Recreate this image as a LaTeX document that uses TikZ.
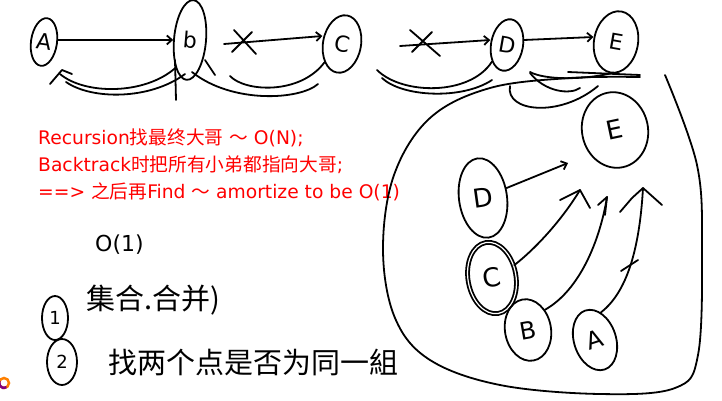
\documentclass[tikz,border=0pt]{standalone}
\usepackage{fontspec}
\setmainfont{DejaVu Sans}
\newfontfamily\cjk{Noto Sans CJK SC}
\usetikzlibrary{shapes.geometric,arrows.meta}
\begin{document}
\begin{tikzpicture}[x=1pt,y=-1pt,
  pen/.style={line width=1.8pt, line cap=round, line join=round, black},
  letter/.style={pen, draw, ellipse, inner sep=0pt, font=\fontsize{22}{22}\selectfont},
  harrow/.style={pen, -{Straight Barb[length=5pt,width=9pt]}},
  redtxt/.style={text=red, anchor=west, inner sep=0pt, font=\fontsize{18.7}{18.7}\selectfont},
  hand/.style={anchor=west, inner sep=0pt, font=\cjk\fontsize{29}{29}\selectfont}]
\useasboundingbox (0,0) rectangle (722,400);
\fill[white] (0,0) rectangle (722,400);

% ---------- top row ----------
\node[letter, minimum width=26, minimum height=48, rotate=-8] (tA) at (44,42) {A};
\node[letter, minimum width=32, minimum height=80, rotate=-5] (tB) at (190,40) {b};
\node[letter, minimum width=38, minimum height=58, rotate=-10] (tC) at (342,44) {C};
\node[letter, minimum width=32, minimum height=52, rotate=-10] (tD) at (507,45) {D};
\node[letter, minimum width=44, minimum height=62, rotate=-10] (tE) at (616,42) {E};

\draw[harrow] (tA.east) ++(0,-4) coordinate (a1) -- (tB.west |- a1);
\coordinate (b1) at (224,44);
\draw[harrow] (b1) -- (tC.west |- 0,36);
\draw[pen] (234,30) -- (256,54) (232,52) -- (252,32);
\coordinate (c1) at (400,46);
\draw[harrow] (c1) -- (tD.west |- 0,40);
\draw[pen] (410,30) -- (440,56) (412,52) -- (432,32);
\draw[harrow] (tD.east |- 0,40) -- (tE.west |- 0,37);

% return curves
\draw[pen] (tB.south west) .. controls (145,95) and (85,95) .. (60,74);
\draw[pen] (185,74) .. controls (150,100) and (92,100) .. (66,82);
\draw[pen] (50,84) -- (62,70) -- (72,74);
\draw[pen] (tC.south west) .. controls (300,95) and (245,92) .. (230,76);
\draw[pen] (192,72) .. controls (232,104) and (300,100) .. (318,84);
\draw[pen] (tD.south west) .. controls (470,96) and (402,95) .. (377,70);
\draw[pen] (492,80) .. controls (462,100) and (402,97) .. (382,78);
\draw[pen] (tE.south) .. controls (582,80) and (545,80) .. (530,72);
\draw[pen] (175,60) -- (176,100) (205,60) -- (215,75);

% ---------- red text ----------
\node[redtxt] (r1) at (38,138) {Recursion{\cjk 找最终大哥} {\cjk ～} O(N);};
\node[redtxt] (r2) at (38,165) {Backtrack{\cjk 时把所有小弟都指向大哥};};
\node[redtxt] (r3) at (38,192) {==> {\cjk 之后再}Find {\cjk ～} amortize to be O(1)};

% ---------- handwritten notes ----------
\node[hand, font=\fontsize{22}{22}\selectfont] (o1) at (95,245) {O(1)};
\node[pen, draw, ellipse, minimum width=26, minimum height=44, inner sep=0pt, font=\fontsize{18}{18}\selectfont] (n1) at (55,318) {1};
\node[hand] (t1) at (86,300) {集合.合并)};
\node[pen, draw, ellipse, minimum width=30, minimum height=46, inner sep=0pt, font=\fontsize{18}{18}\selectfont] (n2) at (62,362) {2};
\node[hand] (t2) at (108,362) {找两个点是否为同一組};

% ---------- big set ----------
\draw[pen] plot[smooth, tension=0.6] coordinates {(640,77) (570,78) (490,88) (430,118) (394,175) (383,250) (395,318) (430,360) (500,385) (600,394) (675,388) (698,355) (702,250) (697,165) (665,75)};
\draw[pen] (510,86) .. controls (505,112) and (560,118) .. (598,86);
\draw[pen] (530,73) .. controls (545,92) and (570,95) .. (580,88);
\draw[pen] (568,72) -- (640,75);

\node[letter, minimum width=66, minimum height=76, rotate=12, font=\fontsize{26}{26}\selectfont] (E) at (615,130) {E};
\node[letter, minimum width=48, minimum height=80, rotate=8, font=\fontsize{26}{26}\selectfont] (D) at (483,198) {D};
\node[letter, double, double distance=1.2pt, minimum width=48, minimum height=72, rotate=10, font=\fontsize{26}{26}\selectfont] (C) at (492,278) {C};
\node[letter, minimum width=46, minimum height=62, rotate=10, font=\fontsize{24}{24}\selectfont] (B) at (528,330) {B};
\node[letter, minimum width=42, minimum height=62, rotate=18, font=\fontsize{24}{24}\selectfont] (A) at (595,340) {A};

\coordinate (eD) at (568,163);
\coordinate (eC) at (580,190);
\coordinate (eB) at (607,197);
\coordinate (eA) at (643,188);
\draw[harrow] (D.15) -- (eD);
\draw[pen] (C.20) .. controls (540,245) and (565,215) .. (eC);
\draw[pen] (560,200) -- (eC) -- (590,208);
\draw[pen] (B.40) .. controls (580,290) and (600,240) .. (eB);
\draw[pen] (598,205) -- (eB) -- (605,215);
\draw[pen] (A.60) .. controls (630,290) and (640,240) .. (eA);
\draw[pen] (620,212) -- (632,198) -- (eA) -- (662,205);
\draw[pen] (621,271) -- (638,260);

% colour picker mark
\draw[line width=2.5pt, orange] (4,383) circle (5);
\draw[line width=2.5pt, violet] (4,383) ++(60:5) arc (60:200:5);
\end{tikzpicture}
\end{document}
